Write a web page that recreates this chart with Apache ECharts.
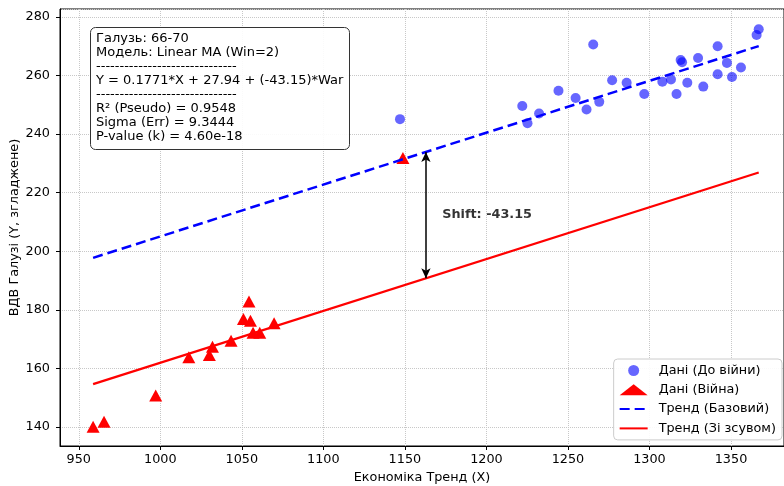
<!DOCTYPE html>
<html>
<head>
<meta charset="utf-8">
<script src="https://cdn.jsdelivr.net/npm/echarts@6/dist/echarts.min.js"></script>
<style>
html, body { margin: 0; padding: 0; background: #fff; }
#chart { width: 784px; height: 486px; }
</style>
</head>
<body>
<div id="chart"></div>
<script>
// pre-war points (blue circles)
var preWarX = [1147.0, 1222.0, 1225.2, 1232.3, 1244.2, 1254.7, 1261.4, 1265.5, 1269.2, 1277.1,
               1286.0, 1296.8, 1307.9, 1313.2, 1316.6, 1319.1, 1320.0, 1323.2, 1329.8, 1333.0,
               1341.8, 1341.8, 1347.5, 1350.6, 1356.1, 1365.7, 1367.0];
var preWarY = [245.1, 249.6, 243.7, 247.0, 254.8, 252.3, 248.4, 270.6, 251.0, 258.4,
               257.5, 253.7, 257.9, 258.6, 253.7, 265.3, 264.5, 257.5, 266.0, 256.2,
               270.0, 260.4, 264.3, 259.5, 262.7, 273.8, 275.8];
// war points (red triangles)
var warX = [958.8, 965.5, 997.2, 1017.5, 1030.1, 1032.0, 1043.4, 1051.0, 1054.4, 1055.3,
            1056.9, 1061.0, 1069.8, 1148.8];
var warY = [140.1, 141.8, 150.7, 163.8, 164.6, 167.4, 169.4, 176.9, 182.8, 176.3,
            172.2, 172.2, 175.4, 231.8];

// model
var slope = 0.1771, intercept = 27.94, shift = -43.15;

var infoLines = [
    'Галузь: 66-70',
    'Модель: Linear MA (Win=2)',
    '------------------------------',
    'Y = 0.1771*X + 27.94 + (-43.15)*War',
    '------------------------------',
    'R² (Pseudo) = 0.9548',
    'Sigma (Err) = 9.3444',
    'P-value (k) = 4.60e-18'
];

var FONT = 'DejaVu Sans';
var allX = preWarX.concat(warX);
var xLo = Math.min.apply(null, allX), xHi = Math.max.apply(null, allX);
var base = function (x) { return slope * x + intercept; };
var xMid = (xLo + xHi) / 2;

var myChart = echarts.init(document.getElementById('chart'));
var option = {
    animation: false,
    textStyle: { fontFamily: FONT },
    title: {
        text: infoLines.join('\n'),
        left: 90,
        top: 27,
        padding: [5, 6, 6, 6],
        backgroundColor: 'rgba(255,255,255,0.9)',
        borderColor: '#333',
        borderWidth: 1,
        borderRadius: 5,
        textStyle: { fontFamily: FONT, fontSize: 13, lineHeight: 14, fontWeight: 'normal', color: '#000' },
        z: 10
    },
    legend: {
        orient: 'vertical',
        top: 359,
        right: 2,
        padding: [5, 6, 5, 5],
        itemWidth: 28,
        itemHeight: 11,
        itemGap: 6.3,
        backgroundColor: 'rgba(255,255,255,0.9)',
        borderColor: '#ccc',
        borderWidth: 1,
        borderRadius: 4,
        textStyle: { fontFamily: FONT, fontSize: 12.8, color: '#000', padding: [0, 0, 0, 6] },
        data: [
            'Дані (До війни)',
            'Дані (Війна)',
            { name: 'Тренд (Базовий)', itemStyle: { opacity: 0 } },
            { name: 'Тренд (Зі зсувом)', itemStyle: { opacity: 0 } }
        ]
    },
    grid: {
        left: 60, right: 0, top: 9, bottom: 40,
        outerBoundsMode: 'none',
        show: true, borderColor: '#000', borderWidth: 1
    },
    xAxis: {
        type: 'value',
        min: 938.5,
        max: 1382.5,
        splitNumber: 9,
        name: 'Економіка Тренд (X)',
        nameLocation: 'middle',
        nameGap: 25,
        nameMoveOverlap: false,
        nameTextStyle: { fontFamily: FONT, fontSize: 12.8, color: '#000' },
        axisLine: { onZero: false, lineStyle: { color: '#000' } },
        axisTick: { show: true, length: 4, lineStyle: { color: '#000' } },
        axisLabel: {
            showMinLabel: false, showMaxLabel: false, margin: 7, fontSize: 12.8, color: '#000', fontFamily: FONT,
            formatter: function (v) { return String(v); }
        },
        splitLine: { show: true, lineStyle: { type: 'dotted', color: '#c8c8c8' } }
    },
    yAxis: {
        type: 'value',
        min: 133.5,
        max: 282.7,
        splitNumber: 7,
        name: 'ВДВ Галузі (Y, згладжене)',
        nameLocation: 'middle',
        nameGap: 39,
        nameMoveOverlap: false,
        nameTextStyle: { fontFamily: FONT, fontSize: 12.8, color: '#000' },
        axisLine: { show: true, onZero: false, lineStyle: { color: '#000' } },
        axisTick: { show: true, length: 4, lineStyle: { color: '#000' } },
        axisLabel: { showMinLabel: false, showMaxLabel: false, margin: 10, fontSize: 12.8, color: '#000', fontFamily: FONT },
        splitLine: { show: true, lineStyle: { type: 'dotted', color: '#c8c8c8' } }
    },
    series: [
        {
            name: 'Дані (До війни)',
            type: 'scatter',
            symbol: 'circle',
            symbolSize: 10,
            itemStyle: { color: '#0000ff', opacity: 0.6 },
            data: preWarX.map(function (x, i) { return [x, preWarY[i]]; }),
            z: 2
        },
        {
            name: 'Дані (Війна)',
            type: 'scatter',
            symbol: 'triangle',
            symbolSize: [13, 12],
            itemStyle: { color: '#ff0000', opacity: 1 },
            data: warX.map(function (x, i) { return [x, warY[i]]; }),
            z: 2
        },
        {
            name: 'Тренд (Базовий)',
            type: 'line',
            symbol: 'none',
            lineStyle: { color: '#0000ff', width: 2.5, type: [10, 5] },
            itemStyle: { color: '#0000ff' },
            data: [[xLo, base(xLo)], [xHi, base(xHi)]],
            z: 3
        },
        {
            name: 'Тренд (Зі зсувом)',
            type: 'line',
            symbol: 'none',
            lineStyle: { color: '#ff0000', width: 2.3 },
            itemStyle: { color: '#ff0000' },
            data: [[xLo, base(xLo) + shift], [xHi, base(xHi) + shift]],
            z: 3,
            markLine: {
                silent: true,
                symbol: ['arrow', 'arrow'],
                symbolSize: [7, 10],
                label: { show: false },
                lineStyle: { color: '#000', width: 1.5, type: 'solid' },
                data: [[{ coord: [xMid, base(xMid)] }, { coord: [xMid, base(xMid) + shift] }]]
            }
        },
        {
            name: 'shift',
            type: 'scatter',
            symbolSize: 0,
            data: [[xMid + 10, base(xMid) + shift / 2]],
            label: {
                show: true,
                position: 'right',
                distance: 0,
                formatter: 'Shift: ' + shift.toFixed(2),
                fontFamily: FONT,
                fontSize: 12.8,
                fontWeight: 'bold',
                color: '#000'
            },
            z: 4
        }
    ]
};
myChart.setOption(option);
</script>
</body>
</html>
